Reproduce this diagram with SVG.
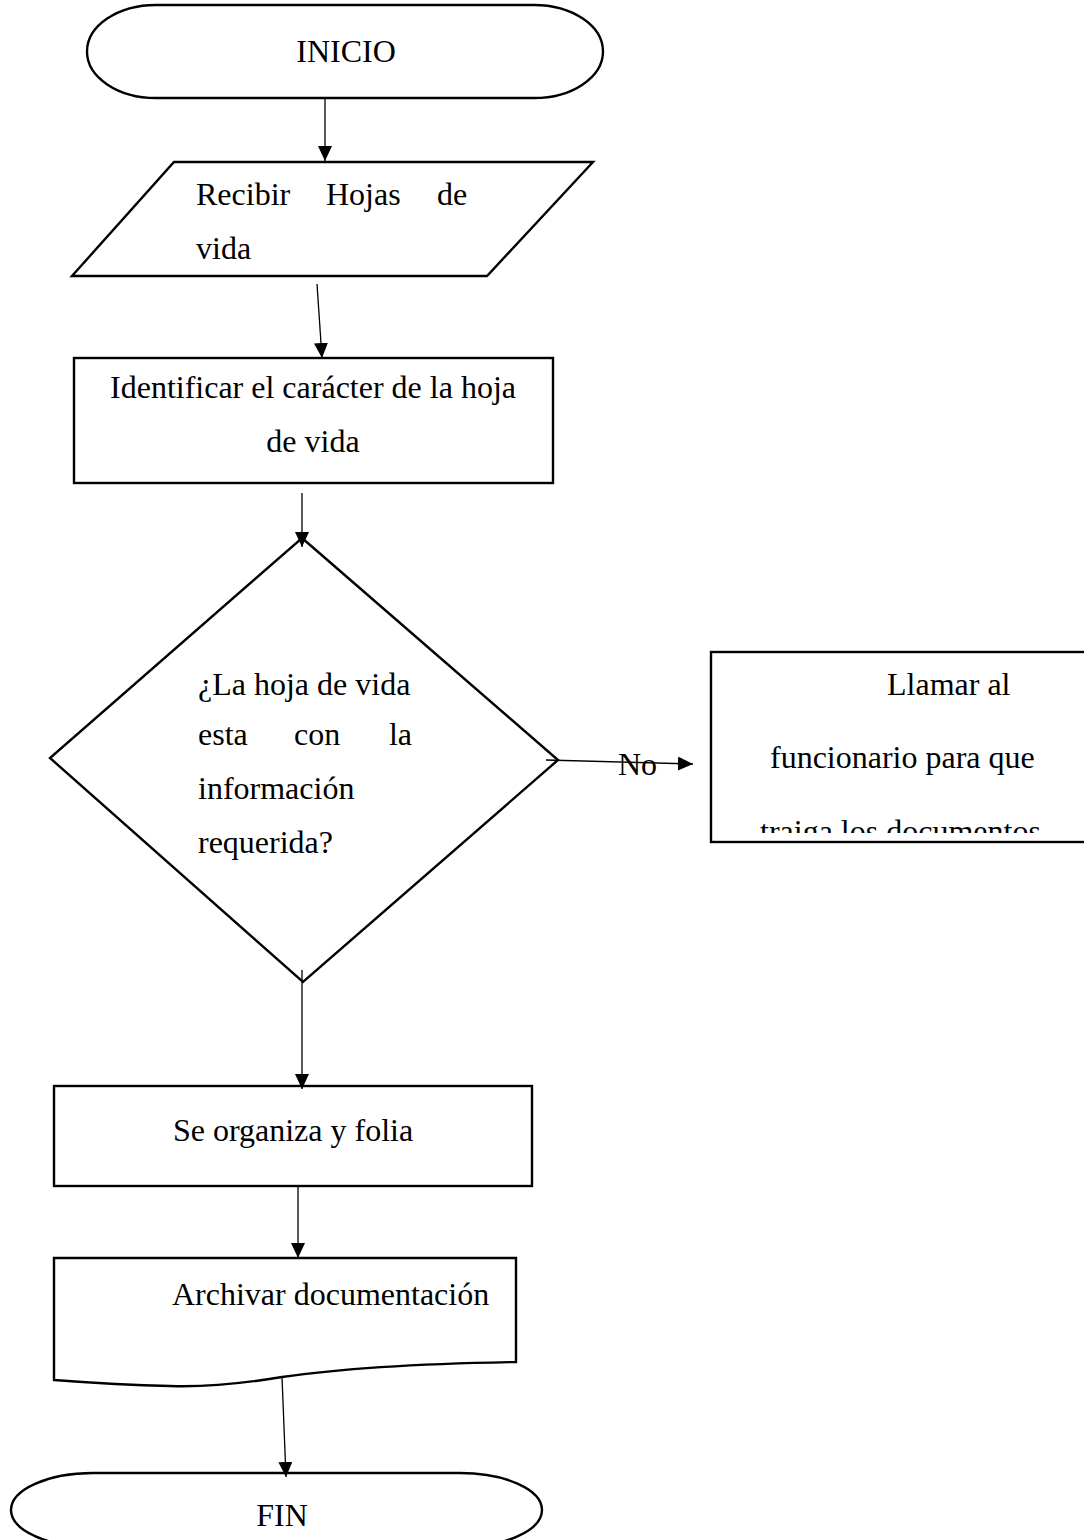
<svg xmlns="http://www.w3.org/2000/svg" width="1084" height="1540" viewBox="0 0 1084 1540">
<style>
.shape{fill:#fff;stroke:#000;stroke-width:2.4}
.conn{fill:none;stroke:#000;stroke-width:1.3}
.t{font-family:"Liberation Serif","Times New Roman",serif;font-size:32px;fill:#000}
.c{text-anchor:middle}
</style>
<defs>
<marker id="ah" markerUnits="userSpaceOnUse" markerWidth="17" markerHeight="16" refX="15" refY="7" orient="auto">
<path d="M0,0 L15,7 L0,14 z" fill="#000"/>
</marker>
<clipPath id="clipR"><rect x="712" y="652" width="372" height="181"/></clipPath>
</defs>
<rect width="1084" height="1540" fill="#fff"/>

<g id="inicio">
<rect class="shape" x="87" y="5" width="516" height="93" rx="69" ry="46.5"/>
<text class="t c" x="346" y="62">INICIO</text>
</g>

<g id="recibir">
<polygon class="shape" points="174,162 593,162 487,276 72,276"/>
<text class="t" x="196" y="205">Recibir</text>
<text class="t" x="326" y="205">Hojas</text>
<text class="t" x="437" y="205">de</text>
<text class="t" x="196" y="259">vida</text>
</g>

<g id="identificar">
<rect class="shape" x="74" y="358" width="479" height="125"/>
<text class="t c" x="313" y="398">Identificar el carácter de la hoja</text>
<text class="t c" x="313" y="452">de vida</text>
</g>

<g id="decision">
<polygon class="shape" points="302,538 558,760 303,982 50,758"/>
<text class="t" x="198" y="695">¿La hoja de vida</text>
<text class="t" x="198" y="745">esta</text>
<text class="t" x="294" y="745">con</text>
<text class="t" x="412" y="745" text-anchor="end">la</text>
<text class="t" x="198" y="799">información</text>
<text class="t" x="198" y="853">requerida?</text>
</g>

<g id="llamar">
<rect class="shape" x="711" y="652" width="390" height="190"/>
<g clip-path="url(#clipR)">
<text class="t" x="887" y="695">Llamar al</text>
<text class="t" x="770" y="768">funcionario para que</text>
<text class="t" x="760" y="842">traiga los documentos</text>
</g>
</g>

<g id="organiza">
<rect class="shape" x="54" y="1086" width="478" height="100"/>
<text class="t c" x="293" y="1141">Se organiza y folia</text>
</g>

<g id="archivar">
<path class="shape" d="M54,1258 L516,1258 L516,1362 C400,1364 330,1370 282,1377 C240,1384 200,1387 170,1386 C120,1385 80,1382 54,1380 Z"/>
<text class="t" x="172" y="1305">Archivar documentación</text>
</g>

<g id="fin">
<rect class="shape" x="11" y="1473" width="531" height="74" rx="82" ry="37"/>
<text class="t c" x="282" y="1526">FIN</text>
</g>

<g id="connectors">
<line class="conn" x1="325" y1="98" x2="325" y2="161" marker-end="url(#ah)"/>
<line class="conn" x1="317" y1="284" x2="322" y2="358" marker-end="url(#ah)"/>
<line class="conn" x1="302" y1="493" x2="302" y2="547" marker-end="url(#ah)"/>
<line class="conn" x1="546" y1="760" x2="693" y2="764" marker-end="url(#ah)"/>
<line class="conn" x1="302" y1="970" x2="302" y2="1089" marker-end="url(#ah)"/>
<line class="conn" x1="298" y1="1187" x2="298" y2="1258" marker-end="url(#ah)"/>
<line class="conn" x1="282" y1="1377" x2="286" y2="1477" marker-end="url(#ah)"/>
<text class="t" x="618" y="775">No</text>
</g>
</svg>
